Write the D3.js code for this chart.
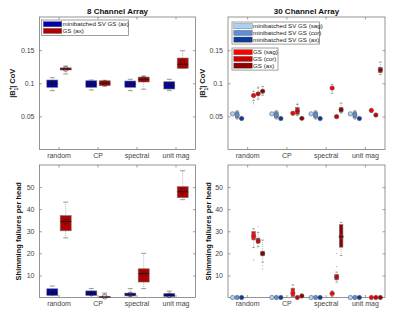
<!DOCTYPE html>
<html>
<head>
<meta charset="utf-8">
<script src="https://cdn.jsdelivr.net/npm/d3@7"></script>
<style>
  body { margin: 0; background: #fff; }
  svg { font-family: "Liberation Sans", Arial, sans-serif; }
</style>
</head>
<body>
<svg id="chart" width="400" height="322"></svg>
<script>
// categories and ticks
var categories = ["random", "CP", "spectral", "unit mag"];
var covTicks = [0.05, 0.1, 0.15];
var failTicks = [10, 20, 30, 40, 50];

// each entry: [lower whisker, q1, median, q3, upper whisker, mean]
var cov8Mini = [
  [0.0888, 0.0939, 0.0999, 0.1049, 0.1084, 0.0999],
  [0.0898, 0.0939, 0.0985, 0.1038, 0.1049, 0.0985],
  [0.0888, 0.0939, 0.0990, 0.1034, 0.1060, 0.0990],
  [0.0888, 0.0913, 0.0970, 0.1023, 0.1060, 0.0970]
];
var cov8GS = [
  [0.1140, 0.1200, 0.1215, 0.1232, 0.1260, 0.1215],
  [0.0955, 0.0963, 0.1000, 0.1038, 0.1045, 0.1000],
  [0.0910, 0.1019, 0.1060, 0.1094, 0.1110, 0.1064],
  [0.1226, 0.1226, 0.1286, 0.1381, 0.1490, 0.1316]
];

var cov30MiniSag = [
  [0.0532, 0.0535, 0.0538, 0.0541, 0.0544, 0.0538],
  [0.0532, 0.0535, 0.0538, 0.0541, 0.0544, 0.0538],
  [0.0532, 0.0535, 0.0538, 0.0541, 0.0544, 0.0538],
  [0.0532, 0.0535, 0.0538, 0.0541, 0.0544, 0.0538]
];
var cov30MiniCor = [
  [0.0460, 0.0475, 0.0520, 0.0570, 0.0585, 0.0520],
  [0.0460, 0.0475, 0.0520, 0.0570, 0.0585, 0.0520],
  [0.0460, 0.0475, 0.0520, 0.0570, 0.0585, 0.0520],
  [0.0460, 0.0475, 0.0520, 0.0570, 0.0585, 0.0520]
];
var cov30MiniAx = [
  [0.0458, 0.0462, 0.0467, 0.0472, 0.0476, 0.0467],
  [0.0458, 0.0462, 0.0467, 0.0472, 0.0476, 0.0467],
  [0.0458, 0.0462, 0.0467, 0.0472, 0.0476, 0.0467],
  [0.0458, 0.0462, 0.0467, 0.0472, 0.0476, 0.0467]
];
var cov30GSSag = [
  [0.0740, 0.0800, 0.0815, 0.0830, 0.0880, 0.0815],
  [0.0520, 0.0540, 0.0548, 0.0556, 0.0570, 0.0548],
  [0.0850, 0.0910, 0.0927, 0.0945, 0.0980, 0.0927],
  [0.0560, 0.0582, 0.0590, 0.0598, 0.0615, 0.0590]
];
var cov30GSCor = [
  [0.0760, 0.0825, 0.0840, 0.0855, 0.0930, 0.0840],
  [0.0510, 0.0530, 0.0580, 0.0633, 0.0680, 0.0580],
  [0.0470, 0.0485, 0.0496, 0.0508, 0.0520, 0.0496],
  [0.0500, 0.0512, 0.0520, 0.0528, 0.0540, 0.0520]
];
var cov30GSAx = [
  [0.0820, 0.0865, 0.0880, 0.0895, 0.0950, 0.0880],
  [0.0455, 0.0462, 0.0470, 0.0478, 0.0490, 0.0470],
  [0.0550, 0.0565, 0.0600, 0.0632, 0.0700, 0.0600],
  [0.1130, 0.1160, 0.1200, 0.1240, 0.1320, 0.1200]
];

var fail8Mini = [
  [0, 0.9, 2.0, 3.95, 5.2, 2.2],
  [0, 0.9, 1.8, 3.0, 4.1, 1.8],
  [0, 0.7, 1.5, 2.0, 4.0, 1.4],
  [0, 0.4, 1.0, 1.8, 2.9, 1.0]
];
var fail8GS = [
  [27.0, 30.2, 34.4, 37.1, 43.2, 34.3],
  [0, 0, 0.2, 0.5, 2.0, 0.4],
  [4.0, 7.0, 10.8, 13.0, 20.0, 10.6],
  [44.3, 45.2, 47.9, 50.2, 57.4, 48.2]
];

var fail30MiniSag = [[0,0,0,0,0,0],[0,0,0,0,0,0],[0,0,0,0,0,0],[0,0,0,0,0,0]];
var fail30MiniCor = [[0,0,0,0,0,0],[0,0,0,0,0,0],[0,0,0,0,0,0],[0,0,0,0,0,0]];
var fail30MiniAx  = [[0,0,0,0,0,0],[0,0,0,0,0,0],[0,0,0,0,0,0],[0,0,0,0,0,0]];
var fail30GSSag = [
  [22.6, 26.1, 28.0, 29.9, 31.1, 27.8],
  [0, 0.4, 1.5, 4.2, 5.7, 2.0],
  [0.5, 1.2, 1.7, 2.2, 3.0, 1.8],
  [0, 0, 0, 0, 0, 0]
];
var fail30GSCor = [
  [23.0, 24.6, 25.5, 26.9, 29.5, 25.6],
  [0, 0, 0, 0, 0.4, 0],
  [7.0, 8.0, 9.0, 10.5, 11.5, 9.3],
  [0, 0, 0, 0, 0, 0]
];
var fail30GSAx = [
  [16.0, 18.9, 19.8, 20.8, 26.0, 19.9],
  [0, 0.3, 0.7, 1.0, 1.5, 0.7],
  [19.0, 22.8, 28.0, 33.0, 34.0, 27.5],
  [0, 0, 0, 0, 0, 0]
];

// outliers: [category index, value]
var cov30GSSagOut = [[0, 0.069], [0, 0.071]];
var cov30GSCorOut = [[0, 0.095], [1, 0.070]];
var fail30GSSagOut = [[0, 17]];
var fail30GSCorOut = [[0, 32], [2, 14], [2, 20]];
var fail30GSAxOut = [[0, 13], [0, 14.5]];

var blue8 = "#0000a8", red8 = "#b00000";
var sagBlue = "#a9d1f7", corBlue = "#5b8ed6", axBlue = "#0d3a99";
var sagRed = "#ff0000", corRed = "#cc0000", axRed = "#8c0000";

var svg = d3.select("#chart");

function drawPanel(p)
{
  var g = svg.append("g");

  var x = d3.scaleBand()
    .domain(categories)
    .range([p.left, p.right])
    .padding(0);

  var y = d3.scaleLinear()
    .domain(p.domain)
    .range([p.bottom, p.top]);

  // box
  g.append("rect")
    .attr("x", p.left).attr("y", p.top)
    .attr("width", p.right - p.left).attr("height", p.bottom - p.top)
    .attr("fill", "#fff").attr("stroke", "#7a7a7a").attr("stroke-width", 0.8);

  // axes, ticks pointing in like MATLAB
  var yAxis = d3.axisLeft(y).tickValues(p.ticks).tickSize(-2.5).tickPadding(5)
    .tickFormat(function(d) { return String(d); });
  var ga = g.append("g").attr("transform", "translate(" + p.left + ",0)").call(yAxis);
  var gr = g.append("g").attr("transform", "translate(" + p.right + ",0)")
    .call(d3.axisRight(y).tickValues(p.ticks).tickSize(-2.5).tickFormat(""));
  var xAxis = d3.axisBottom(x).tickSize(-2.5).tickPadding(4);
  var gb = g.append("g").attr("transform", "translate(0," + p.bottom + ")").call(xAxis);
  var gt = g.append("g").attr("transform", "translate(0," + p.top + ")")
    .call(d3.axisTop(x).tickSize(-2.5).tickFormat(""));

  [ga, gr, gb, gt].forEach(function(a)
  {
    a.select(".domain").remove();
    a.selectAll("line").attr("stroke", "#7a7a7a").attr("stroke-width", 0.7);
    a.selectAll("text").attr("fill", "#444").style("font-size", "7px")
      .style("font-family", "'Liberation Sans', Arial, sans-serif");
  });

  // title
  if (p.title)
  {
    g.append("text")
      .attr("x", (p.left + p.right) / 2).attr("y", p.top - 3)
      .attr("text-anchor", "middle")
      .style("font-size", "8px").style("font-weight", "bold").attr("fill", "#111")
      .text(p.title);
  }

  // y label
  var yl = g.append("text")
    .attr("transform", "translate(" + p.ylabelX + "," + ((p.top + p.bottom) / 2) + ") rotate(-90)")
    .attr("text-anchor", "middle")
    .style("font-size", "7.5px").style("font-weight", "bold").attr("fill", "#111");
  if (p.ylabel == "cov")
  {
    yl.append("tspan").text("|B");
    yl.append("tspan").style("font-size", "5px").attr("dy", -3).text("+");
    yl.append("tspan").style("font-size", "5px").attr("dx", -3.2).attr("dy", 5.5).text("1");
    yl.append("tspan").attr("dy", -2.5).text("| CoV");
  }
  else
  {
    yl.text(p.ylabel);
  }

  // series
  p.series.forEach(function(s)
  {
    var gs = g.append("g");
    s.data.forEach(function(d, i)
    {
      var cx = x(categories[i]) + x.bandwidth() / 2 + s.offset;
      var hw = p.boxWidth / 2;
      var cw = p.capWidth / 2;

      // whiskers
      gs.append("line")
        .attr("x1", cx).attr("x2", cx).attr("y1", y(d[4])).attr("y2", y(d[3]))
        .attr("stroke", "#999").attr("stroke-width", 0.7).attr("stroke-dasharray", "1,1");
      gs.append("line")
        .attr("x1", cx).attr("x2", cx).attr("y1", y(d[1])).attr("y2", y(d[0]))
        .attr("stroke", "#999").attr("stroke-width", 0.7).attr("stroke-dasharray", "1,1");
      [d[0], d[4]].forEach(function(v)
      {
        gs.append("line")
          .attr("x1", cx - cw).attr("x2", cx + cw).attr("y1", y(v)).attr("y2", y(v))
          .attr("stroke", "#999").attr("stroke-width", 1);
      });

      // box
      gs.append("rect")
        .attr("x", cx - hw).attr("width", hw * 2)
        .attr("y", y(d[3])).attr("height", Math.max(y(d[1]) - y(d[3]), 0.01))
        .attr("fill", s.color).attr("stroke", "#777").attr("stroke-width", 0.6);

      // median
      gs.append("line")
        .attr("x1", cx - hw).attr("x2", cx + hw).attr("y1", y(d[2])).attr("y2", y(d[2]))
        .attr("stroke", "#111").attr("stroke-width", 0.7);

      // mean marker
      if (p.openMean)
      {
        gs.append("circle")
          .attr("cx", cx).attr("cy", y(d[5])).attr("r", 2.4)
          .attr("fill", "none").attr("stroke", "#222").attr("stroke-width", 0.6);
      }
      else
      {
        gs.append("circle")
          .attr("cx", cx).attr("cy", y(d[5])).attr("r", 2.2)
          .attr("fill", s.color).attr("stroke", "#666").attr("stroke-width", 0.6);
      }
    });

    if (s.outliers)
    {
      s.outliers.forEach(function(o)
      {
        gs.append("circle")
          .attr("cx", x(categories[o[0]]) + x.bandwidth() / 2 + s.offset)
          .attr("cy", y(o[1])).attr("r", 0.6).attr("fill", "#aaa");
      });
    }
  });

  // legends
  (p.legends || []).forEach(function(L)
  {
    var lg = g.append("g");
    lg.append("rect")
      .attr("x", L.x).attr("y", L.y).attr("width", L.w).attr("height", L.items.length * 6.7 + 2)
      .attr("fill", "#fff").attr("stroke", "#888").attr("stroke-width", 0.8);
    L.items.forEach(function(it, k)
    {
      var ry = L.y + 1.6 + k * 6.7;
      lg.append("rect")
        .attr("x", L.x + 1.8).attr("y", ry).attr("width", 18.5).attr("height", 5.2)
        .attr("fill", it.color).attr("stroke", "#666").attr("stroke-width", 0.4);
      lg.append("text")
        .attr("x", L.x + 21).attr("y", ry + 4.6)
        .style("font-size", "6.2px").attr("fill", "#222")
        .text(it.label);
    });
  });
}

drawPanel({
  left: 39.5, right: 195.5, top: 17, bottom: 149.5,
  domain: [0, 0.2], ticks: covTicks, title: "8 Channel Array",
  ylabel: "cov", ylabelX: 15, boxWidth: 11, capWidth: 5, openMean: true,
  series: [
    { data: cov8Mini, color: blue8, offset: -6.7 },
    { data: cov8GS, color: red8, offset: 6.7 }
  ],
  legends: [
    { x: 41.5, y: 20, w: 87, items: [
      { label: "minibatched SV GS (ax)", color: blue8 },
      { label: "GS (ax)", color: red8 }
    ] }
  ]
});

drawPanel({
  left: 228, right: 385, top: 17, bottom: 149.5,
  domain: [0, 0.2], ticks: covTicks, title: "30 Channel Array",
  ylabel: "cov", ylabelX: 205, boxWidth: 3.6, capWidth: 2.5, openMean: false,
  series: [
    { data: cov30MiniSag, color: sagBlue, offset: -15 },
    { data: cov30MiniCor, color: corBlue, offset: -10.5 },
    { data: cov30MiniAx, color: axBlue, offset: -6 },
    { data: cov30GSSag, color: sagRed, offset: 6, outliers: cov30GSSagOut },
    { data: cov30GSCor, color: corRed, offset: 10.5, outliers: cov30GSCorOut },
    { data: cov30GSAx, color: axRed, offset: 15 }
  ],
  legends: [
    { x: 232, y: 22, w: 87.5, items: [
      { label: "minibatched SV GS (sag)", color: sagBlue },
      { label: "minibatched SV GS (cor)", color: corBlue },
      { label: "minibatched SV GS (ax)", color: axBlue }
    ] },
    { x: 232, y: 48, w: 46, items: [
      { label: "GS (sag)", color: sagRed },
      { label: "GS (cor)", color: corRed },
      { label: "GS (ax)", color: axRed }
    ] }
  ]
});

drawPanel({
  left: 39.5, right: 195.5, top: 165, bottom: 297.5,
  domain: [0, 60], ticks: failTicks,
  ylabel: "Shimming failures per head", ylabelX: 21, boxWidth: 11, capWidth: 5, openMean: true,
  series: [
    { data: fail8Mini, color: blue8, offset: -6.7 },
    { data: fail8GS, color: red8, offset: 6.7 }
  ]
});

drawPanel({
  left: 228, right: 385, top: 165, bottom: 297.5,
  domain: [0, 60], ticks: failTicks,
  ylabel: "Shimming failures per head", ylabelX: 211, boxWidth: 3.6, capWidth: 2.5, openMean: false,
  series: [
    { data: fail30MiniSag, color: sagBlue, offset: -15 },
    { data: fail30MiniCor, color: corBlue, offset: -10.5 },
    { data: fail30MiniAx, color: axBlue, offset: -6 },
    { data: fail30GSSag, color: sagRed, offset: 6, outliers: fail30GSSagOut },
    { data: fail30GSCor, color: corRed, offset: 10.5, outliers: fail30GSCorOut },
    { data: fail30GSAx, color: axRed, offset: 15, outliers: fail30GSAxOut }
  ]
});
</script>
</body>
</html>
